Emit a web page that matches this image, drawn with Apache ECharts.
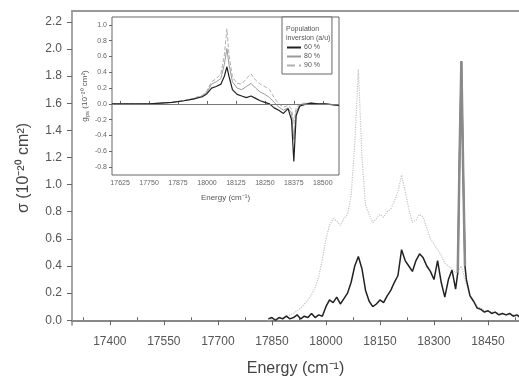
<!DOCTYPE html>
<html>
<head>
<meta charset="utf-8">
<script src="https://cdn.jsdelivr.net/npm/echarts@6/dist/echarts.min.js"></script>
<style>
  html, body { margin: 0; padding: 0; background: #fff; }
  #chart { width: 519px; height: 383px; }
</style>
</head>
<body>
<div id="chart"></div>
<script>
// main spectrum, energies in cm-1
const mainEnergy = [
  17840, 17850, 17860, 17870, 17880, 17890, 17900, 17910, 17920, 17930,
  17940, 17950, 17960, 17970, 17980, 17990, 18000, 18010, 18020, 18030,
  18040, 18050, 18060, 18070, 18080, 18090, 18100, 18110, 18120, 18130,
  18140, 18150, 18160, 18170, 18180, 18190, 18200, 18210, 18220, 18230,
  18240, 18250, 18260, 18270, 18280, 18290, 18300, 18310, 18320, 18330,
  18340, 18350, 18360,
  18366, 18371, 18376, 18381, 18386,
  18390, 18400, 18410, 18420, 18430, 18440, 18450, 18460, 18470, 18480,
  18490, 18500, 18510, 18520, 18530, 18540
];
const sigmaBlack = [
  0.01, 0.02, 0.00, 0.02, 0.01, 0.03, 0.01, 0.02, 0.04, 0.01,
  0.03, 0.02, 0.05, 0.02, 0.04, 0.03, 0.10, 0.15, 0.13, 0.17,
  0.12, 0.16, 0.20, 0.28, 0.40, 0.47, 0.38, 0.22, 0.14, 0.10,
  0.12, 0.15, 0.13, 0.18, 0.22, 0.28, 0.33, 0.52, 0.44, 0.40,
  0.36, 0.44, 0.49, 0.46, 0.40, 0.36, 0.30, 0.44, 0.28, 0.17,
  0.30, 0.37, 0.23,
  0.35, 1.20, 1.91, 1.10, 0.40,
  0.30, 0.18, 0.14, 0.09, 0.08, 0.06, 0.07, 0.05, 0.06, 0.04,
  0.05, 0.04, 0.05, 0.03, 0.04, 0.02
];
const sigmaDotted = [
  0.00, 0.01, 0.01, 0.02, 0.02, 0.03, 0.04, 0.05, 0.07, 0.09,
  0.12, 0.15, 0.19, 0.24, 0.32, 0.45, 0.60, 0.70, 0.75, 0.73,
  0.70, 0.75, 0.78, 0.92, 1.30, 1.85, 1.20, 0.85, 0.78, 0.72,
  0.75, 0.78, 0.76, 0.80, 0.82, 0.88, 0.95, 1.07, 0.95, 0.82,
  0.72, 0.74, 0.78, 0.76, 0.68, 0.60, 0.56, 0.52, 0.48, 0.42,
  0.40, 0.38, 0.35,
  0.36, 0.38, 0.40, 0.35, 0.30,
  0.26, 0.18, 0.14, 0.10, 0.09, 0.07, 0.07, 0.06, 0.06, 0.05,
  0.05, 0.04, 0.04, 0.04, 0.03, 0.03
];
// narrow line drawn in grey over the black trace
const spikeEnergy = [18366, 18371, 18376, 18381, 18386];
const spikeSigma = [0.35, 1.20, 1.91, 1.10, 0.40];

// inset: gain cross-section
const insetEnergy = [
  17590, 17650, 17700, 17750, 17800, 17850, 17900, 17940, 17980, 18000,
  18020, 18040, 18060, 18075, 18086, 18095, 18110, 18130, 18150, 18170,
  18190, 18210, 18230, 18250, 18270, 18290, 18310, 18330, 18350, 18365,
  18375, 18385, 18400, 18420, 18450, 18480, 18510, 18540, 18570
];
const gain60 = [
  0.00, 0.00, 0.00, 0.00, 0.01, 0.02, 0.04, 0.06, 0.09, 0.13,
  0.20, 0.22, 0.25, 0.35, 0.47, 0.35, 0.18, 0.12, 0.10, 0.08,
  0.10, 0.07, 0.04, 0.02, 0.00, -0.05, -0.08, -0.12, -0.06, -0.20,
  -0.73, -0.15, -0.03, -0.01, 0.01, 0.00, 0.00, -0.01, -0.02
];
const gain80 = [
  0.00, 0.00, 0.00, 0.00, 0.01, 0.02, 0.04, 0.06, 0.10, 0.15,
  0.25, 0.28, 0.32, 0.50, 0.70, 0.50, 0.28, 0.20, 0.18, 0.22,
  0.26, 0.20, 0.15, 0.12, 0.08, 0.02, -0.04, -0.08, -0.05, -0.12,
  -0.45, -0.10, -0.02, 0.00, 0.01, 0.00, 0.00, -0.01, -0.02
];
const gain90 = [
  0.00, 0.00, 0.00, 0.00, 0.01, 0.02, 0.04, 0.07, 0.11, 0.17,
  0.28, 0.32, 0.38, 0.62, 0.95, 0.62, 0.34, 0.26, 0.25, 0.32,
  0.38, 0.30, 0.25, 0.22, 0.18, 0.08, 0.00, -0.04, -0.02, -0.06,
  -0.25, -0.05, 0.00, 0.01, 0.01, 0.00, 0.00, -0.01, -0.02
];
const insetNames = ['60 %', '80 %', '90 %'];

const mainXLabels = [17400, 17550, 17700, 17850, 18000, 18150, 18300, 18450];
const mainXMinor = [17325, 17475, 17625, 17775, 17925, 18075, 18225, 18375, 18525];
const mainYLabels = [0, 0.2, 0.4, 0.6, 0.8, 1.0, 1.2, 1.4, 1.6, 1.8, 2.0, 2.2];
const mainYMinor = [0.1, 0.3, 0.5, 0.7, 0.9, 1.1, 1.3, 1.5, 1.7, 1.9, 2.1];
const insetXLabels = [17625, 17750, 17875, 18000, 18125, 18250, 18375, 18500];
const insetYLabels = [-0.8, -0.6, -0.4, -0.2, 0, 0.2, 0.4, 0.6, 0.8, 1.0];

function pairs (xs, ys) {
  return xs.map((x, i) => [x, ys[i]]);
}

const font = 'Liberation Sans, Arial, sans-serif';
const chart = echarts.init(document.getElementById('chart'));

const option = {
  animation: false,
  backgroundColor: '#fff',
  textStyle: { fontFamily: font },
  grid: [
    { left: 72, right: 0, top: 11, bottom: 58 },
    {
      left: 112, top: 17, width: 227, height: 158,
      show: true, backgroundColor: '#fff', borderColor: '#666', borderWidth: 1
    }
  ],
  legend: {
    data: insetNames,
    orient: 'vertical',
    left: 282,
    top: 17,
    padding: [27, 12, 5, 4],
    itemGap: 2,
    itemWidth: 14,
    itemHeight: 7,
    borderColor: '#666',
    borderWidth: 1,
    backgroundColor: '#fff',
    itemStyle: { color: 'rgba(0,0,0,0)', borderWidth: 0 },
    textStyle: { fontSize: 7, color: '#555', padding: [0, 0, 0, -2] }
  },
  graphic: [
    { type: 'text', left: 286, top: 26, z: 100, style: { text: 'Population', fontSize: 7, fill: '#555', fontFamily: font } },
    { type: 'text', left: 286, top: 35, z: 100, style: { text: 'inversion (a/u)', fontSize: 7, fill: '#555', fontFamily: font } }
  ],
  xAxis: [
    {
      type: 'value', gridIndex: 0, min: 17295, max: 18536,
      name: 'Energy (cm⁻¹)', nameLocation: 'middle', nameGap: 36,
      nameTextStyle: { fontSize: 16, color: '#444' },
      axisLine: { lineStyle: { color: '#888', width: 2 } },
      axisTick: { customValues: mainXLabels, length: 5, lineStyle: { color: '#666' } },
      axisLabel: { customValues: mainXLabels, fontSize: 12, color: '#555', margin: 11, formatter: v => String(v) },
      splitLine: { show: false }
    },
    {
      type: 'value', gridIndex: 0, min: 17295, max: 18536,
      axisLine: { show: false },
      axisTick: { customValues: mainXMinor, length: 3, lineStyle: { color: '#666' } },
      axisLabel: { show: false },
      splitLine: { show: false }
    },
    {
      type: 'value', gridIndex: 0, min: 17295, max: 18536, position: 'top',
      axisLine: { lineStyle: { color: '#999', width: 2 } },
      axisTick: { show: false }, axisLabel: { show: false }, splitLine: { show: false }
    },
    {
      type: 'value', gridIndex: 1, min: 17590, max: 18570,
      name: 'Energy (cm⁻¹)', nameLocation: 'middle', nameGap: 19,
      nameTextStyle: { fontSize: 8, color: '#555' },
      axisLine: { show: false },
      axisTick: { customValues: insetXLabels, inside: true, length: 3, lineStyle: { color: '#666' } },
      axisLabel: { customValues: insetXLabels, fontSize: 7, color: '#666', margin: 5, formatter: v => String(v) },
      splitLine: { show: false }
    }
  ],
  yAxis: [
    {
      type: 'value', gridIndex: 0, min: -0.035, max: 2.28,
      name: 'σ (10⁻²⁰ cm²)', nameLocation: 'middle', nameGap: 40,
      nameTextStyle: { fontSize: 16, color: '#444' },
      axisLine: { show: true, lineStyle: { color: '#888', width: 1.5 } },
      axisTick: { show: true, customValues: mainYLabels, length: 5, lineStyle: { color: '#666' } },
      axisLabel: {
        customValues: mainYLabels, fontSize: 12, color: '#555', margin: 10,
        formatter: v => v.toFixed(1)
      },
      splitLine: { show: false }
    },
    {
      type: 'value', gridIndex: 0, min: -0.035, max: 2.28,
      axisLine: { show: false },
      axisTick: { show: true, customValues: mainYMinor, length: 3, lineStyle: { color: '#666' } },
      axisLabel: { show: false },
      splitLine: { show: false }
    },
    {
      type: 'value', gridIndex: 1, min: -0.9, max: 1.1,
      name: '{g|g}{sub|ps} (10⁻²⁰ cm²)', nameLocation: 'middle', nameGap: 22,
      nameTextStyle: {
        fontSize: 8, color: '#555',
        rich: {
          g: { fontSize: 8, color: '#555' },
          sub: { fontSize: 6, color: '#555', verticalAlign: 'bottom', padding: [4, 0, 0, 0] }
        }
      },
      axisLine: { show: false },
      axisTick: { show: true, customValues: insetYLabels, length: 3, lineStyle: { color: '#666' } },
      axisLabel: {
        customValues: insetYLabels, fontSize: 7, color: '#666', margin: 5,
        formatter: v => v.toFixed(1)
      },
      splitLine: { show: false }
    }
  ],
  series: [
    {
      name: 'main dotted', type: 'line', xAxisIndex: 0, yAxisIndex: 0,
      data: pairs(mainEnergy, sigmaDotted), showSymbol: false, symbol: 'none',
      lineStyle: { color: '#c4c4c4', width: 1.2, type: 'dotted' }
    },
    {
      name: 'main black', type: 'line', xAxisIndex: 0, yAxisIndex: 0,
      data: pairs(mainEnergy, sigmaBlack), showSymbol: false, symbol: 'none',
      lineStyle: { color: '#222', width: 1.5 }
    },
    {
      name: 'main spike', type: 'line', xAxisIndex: 0, yAxisIndex: 0,
      data: pairs(spikeEnergy, spikeSigma), showSymbol: false, symbol: 'none',
      lineStyle: { color: '#8a8a8a', width: 2.5 }, z: 3
    },
    {
      name: insetNames[2], type: 'line', xAxisIndex: 3, yAxisIndex: 2,
      data: pairs(insetEnergy, gain90), showSymbol: false, symbol: 'none',
      lineStyle: { color: '#b0b0b0', width: 1, type: 'dashed' }, itemStyle: { color: '#b0b0b0' }
    },
    {
      name: insetNames[1], type: 'line', xAxisIndex: 3, yAxisIndex: 2,
      data: pairs(insetEnergy, gain80), showSymbol: false, symbol: 'none',
      lineStyle: { color: '#9a9a9a', width: 1 }, itemStyle: { color: '#9a9a9a' }
    },
    {
      name: insetNames[0], type: 'line', xAxisIndex: 3, yAxisIndex: 2,
      data: pairs(insetEnergy, gain60), showSymbol: false, symbol: 'none',
      lineStyle: { color: '#222', width: 1.2 }, itemStyle: { color: '#222' },
      markLine: {
        silent: true, symbol: 'none', label: { show: false },
        lineStyle: { color: '#777', width: 1, type: 'solid' },
        data: [{ yAxis: 0 }]
      }
    }
  ]
};

chart.setOption(option);
</script>
</body>
</html>
